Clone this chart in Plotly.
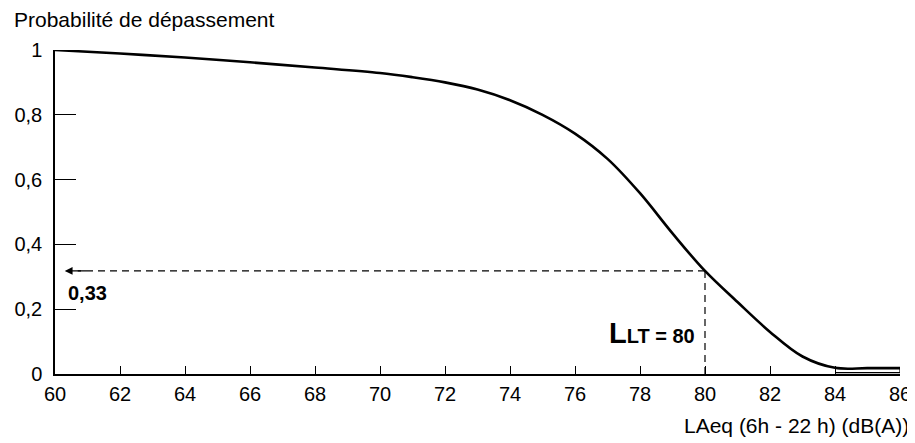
import plotly.graph_objects as go

# Data
laeq = [60, 62, 64, 66, 68, 70, 71, 72, 73, 74, 75, 76, 77, 78, 79, 80, 81, 82, 83, 84, 85, 86]
prob = [1.0, 0.989, 0.977, 0.962, 0.946, 0.929, 0.916, 0.900, 0.878, 0.845, 0.800, 0.742, 0.664, 0.558,
        0.434, 0.318, 0.222, 0.130, 0.054, 0.019, 0.018, 0.018]
tail_x = [84, 86, 86]
tail_y = [0.004, 0.004, 0.018]

llt = 80
p_llt = 0.318
p_label = "0,33"

x_ticks = list(range(60, 88, 2))
y_ticks = [0, 0.2, 0.4, 0.6, 0.8, 1]
y_tick_labels = ["0", "0,2", "0,4", "0,6", "0,8", "1"]

FONT = "Liberation Sans, Arial, sans-serif"

fig = go.Figure()
fig.add_trace(go.Scatter(x=laeq, y=prob, mode="lines",
                         line=dict(color="black", width=2.6, shape="spline", smoothing=1.0),
                         hoverinfo="skip", showlegend=False))
fig.add_trace(go.Scatter(x=tail_x, y=tail_y, mode="lines",
                         line=dict(color="black", width=1.2),
                         hoverinfo="skip", showlegend=False))

dash = "7px,5px"
fig.add_shape(type="line", x0=llt, x1=60.7, y0=p_llt, y1=p_llt, xref="x", yref="y",
              line=dict(color="black", width=1.2, dash=dash))
fig.add_shape(type="line", x0=llt, x1=llt, y0=p_llt, y1=0, xref="x", yref="y",
              line=dict(color="black", width=1.2, dash=dash))
fig.add_annotation(x=60.3, y=p_llt, ax=61.0, ay=p_llt, axref="x", ayref="y", xref="x", yref="y",
                   text="", showarrow=True, arrowhead=2, arrowsize=1.3, arrowwidth=1.2, arrowcolor="black")

fig.add_annotation(x=60.35, y=0.25, xref="x", yref="y", xanchor="left", yanchor="middle",
                   text="<b>" + p_label + "</b>", showarrow=False,
                   font=dict(family=FONT, size=20, color="black"))
fig.add_annotation(x=llt, y=0.127, xref="x", yref="y", xanchor="right", yanchor="middle", xshift=-8,
                   text="<b><span style='font-size:29px'>L</span>LT = " + str(llt) + "</b>", showarrow=False,
                   font=dict(family=FONT, size=20, color="black"))

fig.add_annotation(x=-43 / 845, y=1.0, xref="paper", yref="paper", xanchor="left", yanchor="bottom",
                   yshift=17, text="Probabilité de dépassement", showarrow=False,
                   font=dict(family=FONT, size=21, color="black"))
fig.add_annotation(x=1.013, y=0, xref="paper", yref="paper", xanchor="right", yanchor="top",
                   yshift=-38, text="LAeq (6h - 22 h) (dB(A))", showarrow=False,
                   font=dict(family=FONT, size=21, color="black"))

# page has an 8px body margin; compensate so the plot area lands where the reference has it
fig.update_layout(
    width=907, height=435,
    margin=dict(l=47, r=15, t=42, b=69),
    paper_bgcolor="white", plot_bgcolor="white",
    font=dict(family=FONT, size=20, color="black"),
    showlegend=False,
)
fig.update_xaxes(range=[60, 86], tickvals=x_ticks, ticks="inside", ticklen=8, tickwidth=1.2,
                 tickcolor="black", showline=True, linecolor="black", linewidth=1.5,
                 showgrid=False, zeroline=False, ticklabelstandoff=1, automargin=False)
fig.update_yaxes(range=[0, 1], tickvals=y_ticks, ticktext=y_tick_labels, ticks="inside", ticklen=21,
                 tickwidth=1.2, tickcolor="black", showline=True, linecolor="black", linewidth=1.5,
                 showgrid=False, zeroline=False, ticklabelstandoff=7, automargin=False)

fig.write_html("out.html")
